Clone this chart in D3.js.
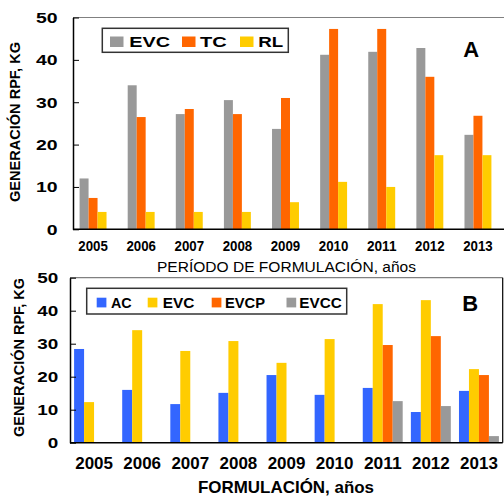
<!DOCTYPE html>
<html>
<head>
<meta charset="utf-8">
<script src="https://cdn.jsdelivr.net/npm/d3@7.9.0/dist/d3.min.js"></script>
<style>
  body { margin: 0; background: #fff; }
  svg { display: block; font-family: "Liberation Sans", Arial, sans-serif; }
</style>
</head>
<body>
<svg id="chart" width="504" height="496"></svg>
<script>
// data
const years = ['2005', '2006', '2007', '2008', '2009', '2010', '2011', '2012', '2013'];
const yTicks = [0, 10, 20, 30, 40, 50];

// panel A
const evcA = [12, 34, 27.2, 30.5, 23.7, 41.2, 41.9, 42.8, 22.3];
const tcA = [7.4, 26.5, 28.4, 27.2, 31, 47.3, 47.3, 36, 26.8];
const rlA = [4.1, 4.1, 4.1, 4.1, 6.4, 11.2, 10, 17.5, 17.5];

// panel B
const acB = [28.4, 16, 11.7, 15.1, 20.5, 14.5, 16.6, 9.3, 15.7];
const evcB = [12.3, 34.1, 27.8, 30.8, 24.2, 31.4, 42, 43.2, 22.3];
const evcpB = [0, 0, 0, 0, 0, 0, 29.6, 32.3, 20.5];
const evccB = [0, 0, 0, 0, 0, 0, 12.6, 11.1, 2];

const GRAY = '#999999', ORANGE = '#ff6600', YELLOW = '#ffcc00', BLUE = '#3366ff';

const seriesA = [
    { name: 'EVC', color: GRAY, values: evcA },
    { name: 'TC', color: ORANGE, values: tcA },
    { name: 'RL', color: YELLOW, values: rlA },
];
const seriesB = [
    { name: 'AC', color: BLUE, values: acB },
    { name: 'EVC', color: YELLOW, values: evcB },
    { name: 'EVCP', color: ORANGE, values: evcpB },
    { name: 'EVCC', color: GRAY, values: evccB },
];

const svg = d3.select('#chart');

function label(g, x, y, str, opts) {
    const t = g.append('text')
        .attr('x', x)
        .attr('y', y)
        .attr('font-size', opts.size)
        .attr('font-weight', opts.weight || 'bold')
        .attr('text-anchor', opts.anchor || 'start')
        .attr('fill', '#000')
        .text(str);
    if (opts.len) t.attr('textLength', opts.len).attr('lengthAdjust', 'spacingAndGlyphs');
    if (opts.rotate) t.attr('transform', `rotate(-90, ${x}, ${y})`);
    return t;
}

function drawPanel(cfg) {
    const g = svg.append('g');
    const { left, right, top, bottom } = cfg;

    const y = d3.scaleLinear().domain([0, 50]).range([bottom, top]);
    const x0 = d3.scaleBand().domain(years).range(cfg.xRange)
        .paddingInner(cfg.padInner).paddingOuter(cfg.padInner / 2);
    const x1 = d3.scaleBand().domain(cfg.series.map((s) => s.name))
        .range([0, x0.bandwidth()]);

    // bars
    const groups = g.append('g')
        .selectAll('g')
        .data(years)
        .join('g')
        .attr('transform', (d) => `translate(${x0(d)},0)`);
    groups.selectAll('rect')
        .data((d, i) => cfg.series.map((s) => ({ name: s.name, color: s.color, v: s.values[i] })))
        .join('rect')
        .attr('x', (d) => x1(d.name))
        .attr('width', x1.bandwidth())
        .attr('y', (d) => y(d.v))
        .attr('height', (d) => bottom - y(d.v))
        .attr('fill', (d) => d.color);

    // frame
    g.append('line').attr('x1', left).attr('x2', right).attr('y1', top).attr('y2', top)
        .attr('stroke', '#808080').attr('stroke-width', 1.2);
    if (cfg.rightBorder) {
        g.append('line').attr('x1', right).attr('x2', right).attr('y1', top).attr('y2', bottom)
            .attr('stroke', '#000').attr('stroke-width', 1.2);
    }
    g.append('line').attr('x1', left).attr('x2', right).attr('y1', bottom).attr('y2', bottom)
        .attr('stroke', '#000').attr('stroke-width', 1.5);

    // y axis
    const yAxis = g.append('g')
        .attr('transform', `translate(${left},0)`)
        .call(d3.axisLeft(y).tickValues(yTicks).tickSize(-6).tickSizeOuter(0).tickPadding(cfg.yPad));
    yAxis.select('.domain').attr('stroke', '#000').attr('stroke-width', 1.5);
    yAxis.selectAll('.tick line').attr('stroke', '#000');
    yAxis.selectAll('.tick text')
        .attr('font-family', null)
        .attr('font-size', cfg.yFont)
        .attr('font-weight', 'bold')
        .attr('fill', '#000')
        .attr('textLength', (d) => String(d).length * cfg.digitW)
        .attr('lengthAdjust', 'spacingAndGlyphs');

    // x axis
    const xAxis = g.append('g')
        .attr('transform', `translate(0,${bottom})`)
        .call(d3.axisBottom(x0).tickSize(0).tickPadding(cfg.xPad));
    xAxis.select('.domain').remove();
    xAxis.selectAll('.tick text')
        .attr('font-family', null)
        .attr('font-size', cfg.xFont)
        .attr('font-weight', 'bold')
        .attr('fill', '#000')
        .attr('textLength', cfg.xLabelW)
        .attr('lengthAdjust', 'spacingAndGlyphs');

    // y title
    label(g, cfg.yTitle.x, cfg.yTitle.y, 'GENERACIÓN RPF, KG',
        { size: 15, anchor: 'middle', len: cfg.yTitle.len, rotate: true })
        .attr('dominant-baseline', 'central');

    // legend
    const lg = cfg.legend;
    g.append('rect')
        .attr('x', lg.x).attr('y', lg.y).attr('width', lg.w).attr('height', lg.h)
        .attr('fill', '#fff').attr('stroke', '#333').attr('stroke-width', 1.5);
    cfg.series.forEach((s, i) => {
        const it = lg.items[i];
        g.append('rect')
            .attr('x', it.sx).attr('y', lg.sy).attr('width', lg.sw).attr('height', lg.sh)
            .attr('fill', s.color);
        label(g, it.tx, lg.base, s.name, { size: lg.font, len: it.tw });
    });

    // panel letter
    label(g, cfg.letter.x, cfg.letter.y, cfg.letter.text, { size: 22 });
}

drawPanel({
    left: 73, right: 504, top: 17.5, bottom: 229.3,
    xRange: [69, 502], padInner: 0.44,
    series: seriesA,
    rightBorder: false,
    yPad: 15.5, yFont: 15, digitW: 10.8,
    xPad: 11.4, xFont: 14, xLabelW: 29.5,
    yTitle: { x: 14, y: 122, len: 160 },
    legend: {
        x: 102.3, y: 28.3, w: 186, h: 24, font: 15.5, base: 47.3,
        sy: 36.5, sw: 13.5, sh: 10.5,
        items: [
            { sx: 110, tx: 129.3, tw: 40.7 },
            { sx: 182, tx: 200, tw: 26.7 },
            { sx: 240, tx: 258.3, tw: 25 },
        ],
    },
    letter: { x: 463.3, y: 56.7, text: 'A' },
});

label(svg, 286.5, 271.5, 'PERÍODO DE FORMULACIÓN, años',
    { size: 15.5, weight: 'normal', anchor: 'middle', len: 259 });

drawPanel({
    left: 70, right: 502.7, top: 277.7, bottom: 442.7,
    xRange: [70, 503], padInner: 0.17,
    series: seriesB,
    rightBorder: true,
    yPad: 11.8, yFont: 14, digitW: 10.5,
    xPad: 15, xFont: 16, xLabelW: 37.7,
    yTitle: { x: 18.3, y: 357.5, len: 159 },
    legend: {
        x: 86.7, y: 288.3, w: 260, h: 25.7, font: 14, base: 307.5,
        sy: 297.7, sw: 9.7, sh: 9.7,
        items: [
            { sx: 96.7, tx: 111, tw: 20.7 },
            { sx: 147.7, tx: 162.7, tw: 31.6 },
            { sx: 211.7, tx: 225, tw: 40 },
            { sx: 286.5, tx: 299.3, tw: 42.4 },
        ],
    },
    letter: { x: 462.3, y: 311, text: 'B' },
});

label(svg, 286, 492.7, 'FORMULACIÓN, años', { size: 17, anchor: 'middle', len: 176 });
</script>
</body>
</html>
